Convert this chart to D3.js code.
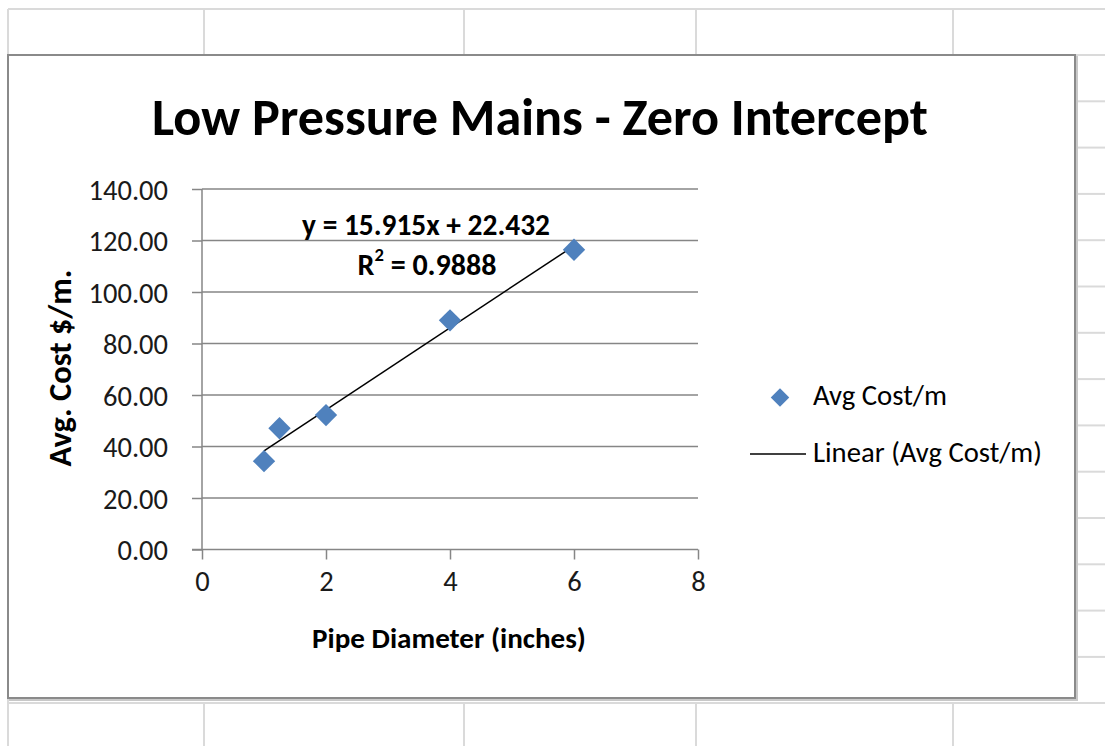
<!DOCTYPE html>
<html>
<head>
<meta charset="utf-8">
<title>Low Pressure Mains</title>
<script src="https://cdn.jsdelivr.net/npm/d3@7/dist/d3.min.js"></script>
<style>
    html, body { margin: 0; padding: 0; background: #fff; }
    svg { display: block; }
    text { font-family: Carlito, Calibri, Lato, sans-serif; fill: #000; }
    .tick text { font-size: 28.5px; fill: #1a1a1a; }
</style>
</head>
<body>
<script>
    // data
    var diameters = [1, 1.25, 2, 4, 6];
    var avgCost = [34.3, 47.1, 52.2, 89.0, 116.4];
    var xTicks = [0, 2, 4, 6, 8];
    var yTicks = [0, 20, 40, 60, 80, 100, 120, 140];
    var trendSlope = 15.915;
    var trendIntercept = 22.432;
    var trendR2 = "0.9888";
    var seriesName = "Avg Cost/m";
    var trendName = "Linear (Avg Cost/m)";
    var chartTitle = "Low Pressure Mains - Zero Intercept";
    var xTitle = "Pipe Diameter (inches)";
    var yTitle = "Avg. Cost $/m.";

    var width = 1105, height = 746;
    var blue = "#4f81bd";
    var gridGrey = "#868686";
    var sheetGrey = "#dadada";

    var svg = d3.select("body").append("svg")
        .attr("width", width)
        .attr("height", height);

    // shrink/grow a text so it spans the given width
    function fitWidth(sel, w) {
        var fs = parseFloat(sel.attr("font-size"));
        var len = sel.node().getComputedTextLength();
        if (len > 0) sel.attr("font-size", fs * w / len);
        return sel;
    }

    //----- spreadsheet behind the chart
    var sheet = svg.append("g").attr("stroke", sheetGrey).attr("stroke-width", 2);
    var box = { x0: 8, y0: 55, x1: 1075, y1: 698 };
    var rowH = 46.3;
    sheet.append("line").attr("x1", 8).attr("x2", width).attr("y1", 9).attr("y2", 9);
    sheet.append("line").attr("x1", 8).attr("x2", 8).attr("y1", 9).attr("y2", height);
    sheet.append("line").attr("x1", 8).attr("x2", width).attr("y1", 703).attr("y2", 703);
    [204, 464, 696, 953].forEach(function (cx) {
        sheet.append("line").attr("x1", cx).attr("x2", cx).attr("y1", 9).attr("y2", box.y0);
        sheet.append("line").attr("x1", cx).attr("x2", cx).attr("y1", 703).attr("y2", height);
    });
    for (var r = 0; r < 14; r++) {
        var ry = box.y0 + r * rowH;
        sheet.append("line").attr("x1", box.x1).attr("x2", width).attr("y1", ry).attr("y2", ry);
    }

    //----- chart frame
    svg.append("rect")
        .attr("x", box.x0 + 2).attr("y", box.y0 + 2)
        .attr("width", box.x1 - box.x0).attr("height", box.y1 - box.y0)
        .attr("fill", "none").attr("stroke", "#c8c8c8").attr("stroke-width", 2);
    svg.append("rect")
        .attr("x", box.x0).attr("y", box.y0)
        .attr("width", box.x1 - box.x0).attr("height", box.y1 - box.y0)
        .attr("fill", "#fff").attr("stroke", "#8a8a8a").attr("stroke-width", 2);

    //----- title
    var title = svg.append("text")
        .attr("x", 540).attr("y", 135)
        .attr("text-anchor", "middle")
        .attr("font-weight", "bold")
        .attr("font-size", 48)
        .text(chartTitle);
    fitWidth(title, 776);

    //----- scales
    var x = d3.scaleLinear().domain([0, 8]).range([202, 698]);
    var y = d3.scaleLinear().domain([0, 140]).range([549.5, 189]);

    // horizontal gridlines
    svg.append("g")
        .selectAll("line")
        .data(yTicks.slice(1))
        .enter()
        .append("line")
        .attr("x1", x(0)).attr("x2", x(8))
        .attr("y1", function (d) { return y(d); })
        .attr("y2", function (d) { return y(d); })
        .attr("stroke", gridGrey).attr("stroke-width", 1.3);

    // y axis
    var yAxis = svg.append("g")
        .attr("transform", "translate(" + x(0) + ",0)")
        .call(d3.axisLeft(y).tickValues(yTicks).tickSize(10).tickPadding(24)
            .tickFormat(d3.format(".2f")));
    // x axis
    var xAxis = svg.append("g")
        .attr("transform", "translate(0," + y(0) + ")")
        .call(d3.axisBottom(x).tickValues(xTicks).tickSize(10).tickPadding(11)
            .tickFormat(d3.format("d")));
    [yAxis, xAxis].forEach(function (ax) {
        ax.select(".domain").attr("stroke", gridGrey).attr("stroke-width", 1.5);
        ax.selectAll(".tick line").attr("stroke", gridGrey).attr("stroke-width", 1.5);
        ax.selectAll(".tick text").attr("font-family", null).attr("font-size", null);
    });
    // x axis line also runs left under the 0.00 tick
    yAxis.select(".domain").attr("d", "M0," + y(140) + "V" + y(0));
    xAxis.select(".domain").attr("d", "M" + (x(0) - 10) + ",0H" + x(8));
    yAxis.selectAll(".tick text").attr("dy", "0.36em");

    // axis titles
    var xt = svg.append("text")
        .attr("x", 449).attr("y", 648)
        .attr("text-anchor", "middle")
        .attr("font-weight", "bold")
        .attr("font-size", 24)
        .text(xTitle);
    fitWidth(xt, 274);

    var yt = svg.append("text")
        .attr("transform", "translate(71,368) rotate(-90)")
        .attr("text-anchor", "middle")
        .attr("font-weight", "bold")
        .attr("font-size", 24)
        .text(yTitle);
    fitWidth(yt, 197);

    //----- trend line, over the span of the data
    var xExt = d3.extent(diameters);
    svg.append("line")
        .attr("x1", x(xExt[0])).attr("y1", y(trendSlope * xExt[0] + trendIntercept))
        .attr("x2", x(xExt[1])).attr("y2", y(trendSlope * xExt[1] + trendIntercept))
        .attr("stroke", "#000").attr("stroke-width", 1.5);

    //----- points
    var diamond = d3.symbol().type(d3.symbolSquare).size(250);
    svg.append("g")
        .selectAll("path")
        .data(diameters)
        .enter()
        .append("path")
        .attr("d", diamond)
        .attr("transform", function (d, i) {
            return "translate(" + x(d) + "," + y(avgCost[i]) + ") rotate(45)";
        })
        .attr("fill", blue);

    //----- equation labels
    var eq = svg.append("text")
        .attr("x", 426).attr("y", 235)
        .attr("text-anchor", "middle")
        .attr("font-weight", "bold")
        .attr("font-size", 26)
        .text("y = " + trendSlope + "x + " + trendIntercept);
    fitWidth(eq, 248);

    var r2 = svg.append("text")
        .attr("x", 427).attr("y", 275)
        .attr("text-anchor", "middle")
        .attr("font-weight", "bold")
        .attr("font-size", 26);
    r2.append("tspan").text("R");
    r2.append("tspan").attr("font-size", "0.62em").attr("dy", "-0.75em").text("2");
    r2.append("tspan").attr("dy", "0.465em").text(" = " + trendR2);
    fitWidth(r2, 139);

    //----- legend
    var legend = svg.append("g");
    legend.append("path")
        .attr("d", d3.symbol().type(d3.symbolSquare).size(170))
        .attr("transform", "translate(780,397.5) rotate(45)")
        .attr("fill", blue);
    var l1 = legend.append("text")
        .attr("x", 813).attr("y", 405)
        .attr("font-size", 26).attr("fill", "#1a1a1a")
        .text(seriesName);
    fitWidth(l1, 134);
    legend.append("line")
        .attr("x1", 750).attr("x2", 806)
        .attr("y1", 454).attr("y2", 454)
        .attr("stroke", "#000").attr("stroke-width", 1.5);
    var l2 = legend.append("text")
        .attr("x", 813).attr("y", 462)
        .attr("font-size", 26).attr("fill", "#1a1a1a")
        .text(trendName);
    fitWidth(l2, 229);
</script>
</body>
</html>
